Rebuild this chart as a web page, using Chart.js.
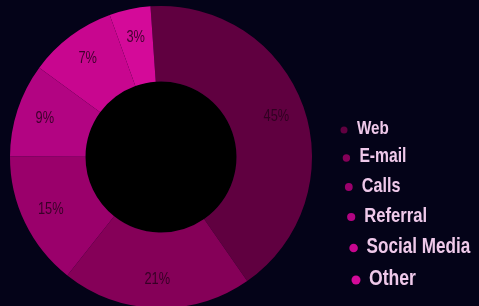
<!DOCTYPE html>
<html>
<head>
<meta charset="utf-8">
<script src="https://cdn.jsdelivr.net/npm/chart.js@4"></script>
<style>
  html, body { margin: 0; padding: 0; background: #040318; overflow: hidden; }
  canvas { display: block; }
</style>
</head>
<body>
<canvas id="chartSources" width="479" height="308"></canvas>
<script>
// === Données ===
// catégories (légende)
const categories = ['Web', 'E-mail', 'Calls', 'Referral', 'Social Media', 'Other'];
// parts des tranches telles que dessinées (angles)
const sliceShares = [41.4, 20.3, 14.4, 10.0, 9.4, 4.4];
// étiquettes affichées sur les tranches
const pctLabels = ['45%', '21%', '15%', '9%', '7%', '3%'];
// couleurs des tranches
const sliceColors = ['#600040', '#850058', '#9a006b', '#b20482', '#c8068f', '#d40a99'];

// police étroite simulée : Liberation Sans compressée horizontalement
const NARROW = 0.8;

// Remplit le trou central en noir
const holePlugin = {
    id: 'hole',
    beforeDatasetsDraw(chart) {
        const arc = chart.getDatasetMeta(0).data[0];
        if (!arc) return;
        const ctx = chart.ctx;
        ctx.save();
        ctx.fillStyle = '#000000';
        ctx.beginPath();
        ctx.arc(arc.x, arc.y, arc.innerRadius, 0, Math.PI * 2);
        ctx.fill();
        ctx.restore();
    }
};

// Pourcentages écrits sur chaque tranche
const pctPlugin = {
    id: 'pct',
    afterDatasetsDraw(chart) {
        const ctx = chart.ctx;
        chart.getDatasetMeta(0).data.forEach((arc, i) => {
            const mid = (arc.startAngle + arc.endAngle) / 2;
            const r = arc.innerRadius + 0.62 * (arc.outerRadius - arc.innerRadius);
            const x = arc.x + Math.cos(mid) * r;
            const y = arc.y + Math.sin(mid) * r;
            ctx.save();
            ctx.translate(x, y);
            ctx.scale(NARROW, 1);
            ctx.font = '16px "Liberation Sans", Arial, sans-serif';
            ctx.fillStyle = 'rgba(40, 0, 28, 0.85)';
            ctx.textAlign = 'center';
            ctx.textBaseline = 'middle';
            ctx.fillText(pctLabels[i], 0, 0);
            ctx.restore();
        });
    }
};

// Légende à droite (un peu en perspective comme sur la photo)
const legendPlugin = {
    id: 'sideLegend',
    afterDraw(chart) {
        const ctx = chart.ctx;
        chart.data.labels.forEach((label, i) => {
            const y = 129 + 27.5 * i + 0.5 * i * i;
            const dotX = 344 + 2.4 * i;
            const size = 19 + 0.6 * i;
            ctx.save();
            ctx.fillStyle = sliceColors[i];
            ctx.beginPath();
            ctx.arc(dotX, y + 1, 3.5 + 0.2 * i, 0, Math.PI * 2);
            ctx.fill();
            ctx.translate(dotX + 13, y);
            ctx.scale(NARROW, 1);
            ctx.font = 'bold ' + size + 'px "Liberation Sans", Arial, sans-serif';
            ctx.fillStyle = '#efc9ea';
            ctx.textBaseline = 'middle';
            ctx.fillText(label, 0, 0);
            ctx.restore();
        });
    }
};

new Chart(document.getElementById('chartSources'), {
    type: 'doughnut',
    data: {
        labels: categories,
        datasets: [{
            data: sliceShares,
            backgroundColor: sliceColors,
            borderWidth: 0
        }]
    },
    options: {
        responsive: false,
        animation: false,
        rotation: -4,
        cutout: '50%',
        layout: { padding: { left: 10, top: 6, right: 167, bottom: 0 } },
        plugins: {
            legend: { display: false },
            tooltip: { enabled: false }
        }
    },
    plugins: [holePlugin, pctPlugin, legendPlugin]
});
</script>
</body>
</html>
